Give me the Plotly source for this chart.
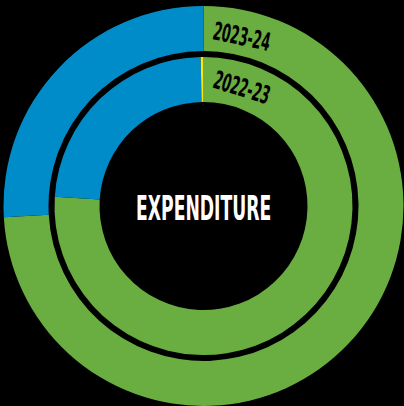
import plotly.graph_objects as go

# Data
labels = ["Green share", "Blue share", "Yellow share"]
values_2023_24 = [74.1, 25.9, 0.0]
values_2022_23 = [76.0, 23.7, 0.3]
ring_labels = ["2023-24", "2022-23"]
center_label = "EXPENDITURE"
colors = ["#6AAD40", "#008CC8", "#FFE600"]

W, H = 404, 406
cx, cy = 203.5, 206.0
FONT = "DejaVu Sans Condensed, Liberation Sans Narrow, Arial Narrow, sans-serif"

def dom(r):
    return dict(x=[(cx - r) / W, (cx + r) / W], y=[1 - (cy + r) / H, 1 - (cy - r) / H])

fig = go.Figure()
fig.add_trace(go.Pie(
    labels=labels, values=values_2023_24, hole=155 / 200, sort=False,
    direction="clockwise", rotation=0, domain=dom(200),
    marker=dict(colors=colors, line=dict(width=0)),
    textinfo="none", hoverinfo="skip", showlegend=False,
))
fig.add_trace(go.Pie(
    labels=labels, values=values_2022_23, hole=104 / 149, sort=False,
    direction="clockwise", rotation=0, domain=dom(149),
    marker=dict(colors=colors, line=dict(width=0)),
    textinfo="none", hoverinfo="skip", showlegend=False,
))

fig.add_annotation(text=center_label, x=cx / W, y=1 - 208 / H, xref="paper", yref="paper",
                   showarrow=False, font=dict(family=FONT, size=33, color="white", weight="bold"),
                   xanchor="center", yanchor="middle")
fig.add_annotation(text=ring_labels[0], x=241 / W, y=1 - 37 / H, xref="paper", yref="paper",
                   showarrow=False, textangle=12,
                   font=dict(family=FONT, size=25, color="black", weight="bold"),
                   xanchor="center", yanchor="middle")
fig.add_annotation(text=ring_labels[1], x=241 / W, y=1 - 88 / H, xref="paper", yref="paper",
                   showarrow=False, textangle=17,
                   font=dict(family=FONT, size=25, color="black", weight="bold"),
                   xanchor="center", yanchor="middle")

fig.update_layout(width=W, height=H, margin=dict(l=0, r=0, t=0, b=0),
                  paper_bgcolor="black", plot_bgcolor="black", showlegend=False)

post = """
document.body.style.margin = '0';
document.body.style.background = 'black';
var ts = document.querySelectorAll('text.annotation-text');
ts.forEach(function(t){
  var s = t.textContent === 'EXPENDITURE' ? 0.58 : 0.56;
  t.style.transformBox = 'fill-box';
  t.style.transformOrigin = 'center';
  t.style.transform = 'scaleX(' + s + ')';
});
"""
fig.write_html("out.html", post_script=post, config={"displayModeBar": False})
